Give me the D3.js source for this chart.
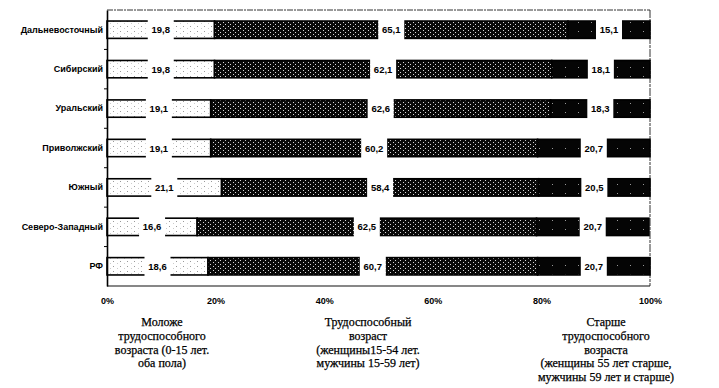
<!DOCTYPE html>
<html>
<head>
<meta charset="utf-8">
<script src="https://cdn.jsdelivr.net/npm/d3@7"></script>
<style>
  html, body { margin: 0; padding: 0; background: #fff; }
  svg { display: block; }
</style>
</head>
<body>
<svg id="chart" width="719" height="388"></svg>
<script>
// ---- data ----
const categories = ["Дальневосточный", "Сибирский", "Уральский", "Приволжский", "Южный", "Северо-Западный", "РФ"];
const youngValues = [19.8, 19.8, 19.1, 19.1, 21.1, 16.6, 18.6];
const workingValues = [65.1, 62.1, 62.6, 60.2, 58.4, 62.5, 60.7];
const olderValues = [15.1, 18.1, 18.3, 20.7, 20.5, 20.7, 20.7];
const xTickValues = [0, 20, 40, 60, 80, 100];
const xTickLabels = ["0%", "20%", "40%", "60%", "80%", "100%"];
const legendBlocks = [
  ["Моложе", "трудоспособного", "возраста (0-15 лет.", "оба пола)"],
  ["Трудоспособный", "возраст", "(женщины15-54 лет.", "мужчины 15-59 лет)"],
  ["Старше", "трудоспособного", "возраста", "(женщины 55 лет старше,", "мужчины 59 лет и старше)"]
];

// ---- layout ----
const svg = d3.select("#chart");
const plotL = 107, plotR = 650, plotT = 10, plotB = 286;

const x = d3.scaleLinear().domain([0, 100]).range([plotL, plotR]);
const y = d3.scaleBand().domain(categories).range([plotT, plotB]).paddingInner(0.56).paddingOuter(0.28);
const band = d3.scaleBand().domain(categories).range([plotT, plotB]).padding(0);

// ---- patterns (scan-like stipple) ----
const defs = svg.append("defs");
const pLight = defs.append("pattern").attr("id", "pLight").attr("patternUnits", "userSpaceOnUse").attr("width", 7).attr("height", 5);
pLight.append("rect").attr("width", 7).attr("height", 5).attr("fill", "#fff");
pLight.append("rect").attr("x", 1).attr("y", 1).attr("width", 1).attr("height", 1).attr("fill", "#999");
pLight.append("rect").attr("x", 5).attr("y", 3).attr("width", 1).attr("height", 1).attr("fill", "#ccc");

const pDark = defs.append("pattern").attr("id", "pDark").attr("patternUnits", "userSpaceOnUse").attr("width", 5).attr("height", 4);
pDark.append("rect").attr("width", 5).attr("height", 4).attr("fill", "#0a0a0a");
[[0,0],[3,2]].forEach(([a,b]) => pDark.append("rect").attr("x", a).attr("y", b).attr("width", 1).attr("height", 1).attr("fill", "#d8d8d8"));

const pBlack = defs.append("pattern").attr("id", "pBlack").attr("patternUnits", "userSpaceOnUse").attr("width", 13).attr("height", 9);
pBlack.append("rect").attr("width", 13).attr("height", 9).attr("fill", "#050505");
pBlack.append("rect").attr("x", 6).attr("y", 4).attr("width", 1).attr("height", 1).attr("fill", "#999");

// ---- frame ----
svg.append("line").attr("x1", plotL).attr("x2", plotR).attr("y1", plotT).attr("y2", plotT)
  .attr("stroke", "#333").attr("stroke-width", 1).attr("stroke-dasharray", "6,1,2,1");
svg.append("line").attr("x1", plotR).attr("x2", plotR).attr("y1", plotT).attr("y2", plotB)
  .attr("stroke", "#333").attr("stroke-width", 1).attr("stroke-dasharray", "8,1,3,1");
svg.append("line").attr("x1", plotL).attr("x2", plotR).attr("y1", plotB).attr("y2", plotB)
  .attr("stroke", "#111").attr("stroke-width", 1.2);

// ---- bars ----
const rows = categories.map((c, i) => {
  const vals = [youngValues[i], workingValues[i], olderValues[i]];
  let acc = 0;
  return vals.map((v, k) => { const s = { cat: c, k, v, x0: acc, x1: acc + v }; acc += v; return s; });
});
const fills = ["url(#pLight)", "url(#pDark)", "url(#pBlack)"];

const g = svg.append("g");
rows.forEach(segs => {
  segs.forEach(s => {
    g.append("rect")
      .attr("x", x(s.x0)).attr("y", y(s.cat))
      .attr("width", x(s.x1) - x(s.x0)).attr("height", y.bandwidth())
      .attr("fill", fills[s.k]).attr("stroke", "#000").attr("stroke-width", 1.6);
  });
  segs.forEach(s => {
    const cx = (x(s.x0) + x(s.x1)) / 2;
    g.append("rect")
      .attr("x", cx - 13).attr("y", y(s.cat) - 2)
      .attr("width", 26).attr("height", y.bandwidth() + 4)
      .attr("fill", "#fff");
    g.append("text")
      .attr("x", cx).attr("y", y(s.cat) + y.bandwidth() / 2 + 3.5)
      .attr("text-anchor", "middle")
      .attr("font-family", "Liberation Sans, Arial, sans-serif")
      .attr("font-weight", "bold").attr("font-size", 9.5)
      .attr("fill", "#000")
      .text(d3.format(".1f")(s.v).replace(".", ","));
  });
});

// ---- y axis ----
const yAxis = d3.axisLeft(band).tickSize(0).tickPadding(4);
const ya = svg.append("g").attr("transform", `translate(${plotL},0)`).call(yAxis);
ya.select(".domain").attr("stroke", "#000").attr("stroke-width", 1.6);
ya.selectAll("text")
  .attr("font-family", "Liberation Sans, Arial, sans-serif")
  .attr("font-weight", "bold").attr("font-size", 9).attr("fill", "#000");
// tick marks at band boundaries
svg.append("g").selectAll("line").data(categories.slice(1)).join("line")
  .attr("x1", plotL - 3).attr("x2", plotL).attr("y1", d => band(d)).attr("y2", d => band(d))
  .attr("stroke", "#000").attr("stroke-width", 1);

// ---- x axis labels ----
const xAxis = d3.axisBottom(x).tickValues(xTickValues).tickSize(0).tickPadding(12)
  .tickFormat((d, i) => xTickLabels[i]);
const xa = svg.append("g").attr("transform", `translate(0,${plotB})`).call(xAxis);
xa.select(".domain").remove();
xa.selectAll("text")
  .attr("font-family", "Liberation Sans, Arial, sans-serif")
  .attr("font-weight", "bold").attr("font-size", 9).attr("fill", "#000");

// ---- legend text blocks ----
const blockX = [162, 368, 606];
legendBlocks.forEach((lines, bi) => {
  const t = svg.append("text")
    .attr("font-family", "Liberation Serif, 'Times New Roman', serif")
    .attr("font-size", 12).attr("fill", "#000")
    .attr("stroke", "#000").attr("stroke-width", 0.25)
    .attr("text-anchor", "middle");
  lines.forEach((ln, li) => {
    t.append("tspan").attr("x", blockX[bi]).attr("y", 326 + li * 13.8).text(ln);
  });
});
</script>
</body>
</html>
